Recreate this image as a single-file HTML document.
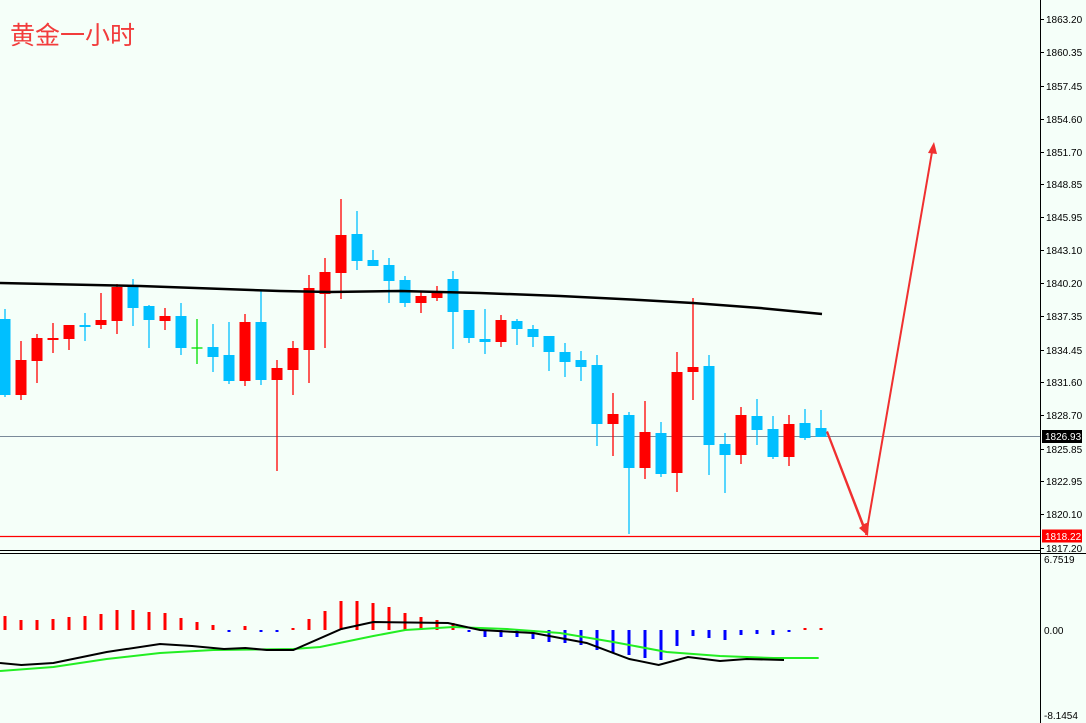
<!DOCTYPE html>
<html><head><meta charset="utf-8"><style>
html,body{margin:0;padding:0;background:#f5fff9;}
svg{display:block;}
text{font-family:"Liberation Sans",sans-serif;font-size:10px;fill:#000;}
</style></head><body>
<svg id="s" width="1086" height="723" viewBox="0 0 1086 723" xmlns="http://www.w3.org/2000/svg">
<rect width="1086" height="723" fill="#f5fff9"/>
<text x="10" y="44" style="font-family:'Liberation Sans','Noto Sans CJK SC',sans-serif;font-size:25px;fill:#f23c3c">黄金一小时</text>
<line x1="0" y1="436.5" x2="1040" y2="436.5" stroke="#7a8a9a" stroke-width="1"/>
<line x1="0" y1="536.5" x2="1040" y2="536.5" stroke="#ff0000" stroke-width="1.2"/>
<g id="c"></g>
<line x1="1040.5" y1="0" x2="1040.5" y2="723" stroke="#000" stroke-width="1"/>
<line x1="0" y1="550.5" x2="1040" y2="550.5" stroke="#000"/>
<line x1="0" y1="553.5" x2="1086" y2="553.5" stroke="#000"/>
<g id="ax"></g>
<rect x="1042" y="430" width="40" height="13" fill="#000"/>
<text x="1045" y="440" style="fill:#fff">1826.93</text>
<rect x="1042" y="529.5" width="40" height="13" fill="#ff0000"/>
<text x="1045" y="540" style="fill:#fff">1818.22</text>
<text x="1044" y="563">6.7519</text>
<text x="1044" y="634">0.00</text>
<text x="1044" y="719">-8.1454</text>
</svg>
<script>
var ns="http://www.w3.org/2000/svg",g=document.getElementById('c'),ax=document.getElementById('ax');
function el(p,t,a){var e=document.createElementNS(ns,t);for(var k in a)e.setAttribute(k,a[k]);p.appendChild(e);return e;}
var R="#ff0000",B="#00bfff",G="#00e000";
var C=[
['b',319,395,309,397],['r',360,395,341,400],['r',338,361,334,383],['r',338,340,323,353],['r',325,339,325,350],
['b',325,326,313,341],['r',320,325,293,329],['r',287,321,284,334],['b',287,308,279,326],['b',306,320,305,348],
['r',316,321,308,330],['b',316,348,303,355],['g',348,349,319,364],['b',347,357,324,372],['b',355,381,322,384],
['r',322,381,314,386],['b',322,380,291,385],['r',368,380,360,471],['r',348,370,341,395],['r',288,350,275,383],
['r',272,294,258,348],['r',235,273,199,299],['b',234,261,211,270],['b',260,266,250,266],['b',265,281,258,303],
['b',280,303,276,307],['r',296,303,292,313],['r',292,298,286,301],['b',279,312,271,349],['b',310,338,310,343],
['b',339,342,309,354],['r',320,342,315,347],['b',321,329,319,345],['b',329,337,325,347],['b',336,352,336,371],
['b',352,362,343,377],['b',360,367,351,381],['b',365,424,355,446],['r',414,424,393,456],['b',415,468,412,534],
['r',432,468,401,479],['b',433,474,422,477],['r',372,473,352,492],['r',367,372,298,400],['b',366,445,355,475],
['b',444,455,433,493],['r',415,455,407,464],['b',416,430,399,445],['b',429,457,416,459],['r',424,457,415,466],
['b',423,438,409,440],['b',428,437,410,437]];
C.forEach(function(c,i){var x=5+16*i,col=c[0]=='r'?R:c[0]=='b'?B:G;
el(g,'line',{x1:x,y1:c[3],x2:x,y2:c[4],stroke:col,'stroke-width':1.3});
if(c[0]=='g')el(g,'line',{x1:x-5.5,y1:c[1],x2:x+5.5,y2:c[1],stroke:col,'stroke-width':1.3});
else el(g,'rect',{x:x-5.5,y:c[1],width:11,height:Math.max(2,c[2]-c[1]),fill:col});});
el(g,'polyline',{points:"0,283 140,286 280,291 330,292 400,291 480,293 560,296 640,300 693,303 760,308 822,314",fill:'none',stroke:'#000','stroke-width':2.5});
el(g,'polygon',{points:"826,432 828,431 864,524 869,522 868,536 859,528 862,526",fill:'#f03030'});
el(g,'line',{x1:866,y1:535,x2:932,y2:152,stroke:'#f03030','stroke-width':2});
el(g,'polygon',{points:"928,153 937,154 934,142",fill:'#f03030'});
var H=[616,620,620,619,617,616,614,610,610,612,613,618,622,625,-632,626,-632,-632,628,619,611,601,601,603,607,613,617,620,623,-632,-637,-637,-637,-639,-642,-643,-645,-650,-653,-655,-658,-660,-646,-636,-638,-640,-635,-634,-635,-632,628,628];
H.forEach(function(h,i){var x=5+16*i;if(h>0)el(g,'rect',{x:x-1.5,y:h,width:3,height:630-h,fill:R});else el(g,'rect',{x:x-1.5,y:630,width:3,height:-h-630,fill:'#0000ff'});});
function pl(pts,col){el(g,'polyline',{points:pts.map(function(p){return (p[0]/1.875)+','+p[1];}).join(' '),fill:'none',stroke:col,'stroke-width':2});}
pl([[0,671],[100,667],[200,659],[300,653],[400,650],[550,649],[600,647],[700,636],[760,630],[850,627],[950,629],[1050,633],[1150,642],[1250,652],[1350,656],[1450,658],[1535,658]],'#22ee22');
pl([[0,663],[40,665],[100,663],[200,652],[300,644],[360,646],[420,649],[460,648],[500,650],[550,650],[640,629],[700,622],[840,623],[900,630],[1000,633],[1100,643],[1180,659],[1235,665],[1290,657],[1350,661],[1400,659],[1470,660]],'#000');
var L=[["1863.20",19],["1860.35",52],["1857.45",86],["1854.60",119],["1851.70",152],["1848.85",184],["1845.95",217],["1843.10",250],["1840.20",283],["1837.35",316],["1834.45",350],["1831.60",382],["1828.70",415],["1825.85",449],["1822.95",481],["1820.10",514],["1817.20",548]];
L.forEach(function(l){el(ax,'line',{x1:1041,y1:l[1]+.5,x2:1044,y2:l[1]+.5,stroke:'#000'});var t=el(ax,'text',{x:1046,y:l[1]+4});t.textContent=l[0];});
</script>
</body></html>
